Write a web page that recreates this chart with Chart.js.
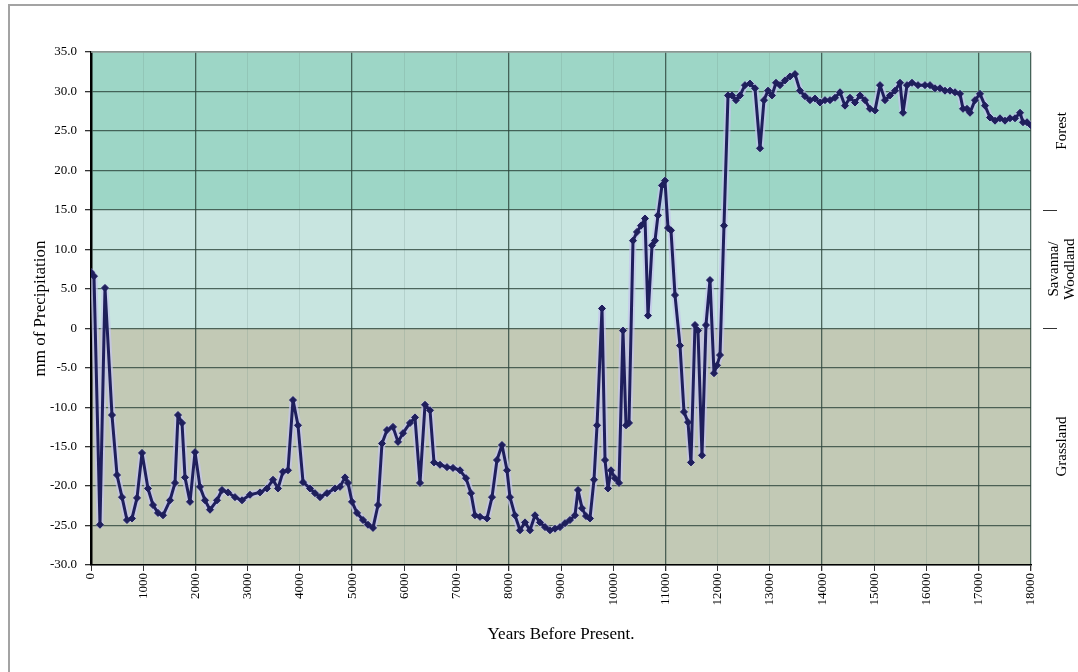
<!DOCTYPE html>
<html>
<head>
<meta charset="utf-8">
<script src="https://cdn.jsdelivr.net/npm/chart.js@4.4.1/dist/chart.umd.min.js"></script>
<style>
  html, body { margin: 0; padding: 0; background: #fff; }
  canvas { display: block; }
</style>
</head>
<body>
<canvas id="chart" width="1078" height="672"></canvas>
<script>
// Reconstructed precipitation anomaly (mm) against age (years before present)
const years = [
  0, 57, 172, 268, 402, 498, 594, 689, 785, 881, 977, 1091, 1187, 1283, 1379, 1513, 1609, 1666, 1743, 1800,
  1896, 1992, 2087, 2183, 2279, 2413, 2509, 2623, 2757, 2892, 3045, 3236, 3370, 3485, 3581, 3676, 3772, 3868, 3964, 4060,
  4194, 4289, 4385, 4519, 4672, 4768, 4864, 4921, 4998, 5094, 5209, 5304, 5400, 5496, 5572, 5668, 5783, 5879, 5974, 6109,
  6204, 6300, 6396, 6492, 6568, 6683, 6817, 6932, 7066, 7181, 7277, 7353, 7449, 7583, 7679, 7774, 7870, 7966, 8023, 8119,
  8215, 8311, 8406, 8502, 8598, 8694, 8789, 8885, 8981, 9077, 9172, 9268, 9326, 9402, 9479, 9555, 9632, 9690, 9785, 9843,
  9900, 9958, 10034, 10111, 10187, 10245, 10302, 10379, 10455, 10532, 10609, 10666, 10743, 10800, 10857, 10934, 10991, 11049, 11106, 11183,
  11279, 11355, 11432, 11489, 11566, 11623, 11700, 11776, 11853, 11930, 11987, 12045, 12121, 12198, 12275, 12351, 12428, 12523, 12619, 12715,
  12811, 12887, 12964, 13040, 13117, 13194, 13289, 13385, 13481, 13577, 13672, 13768, 13864, 13960, 14055, 14151, 14247, 14343, 14438, 14534,
  14630, 14726, 14821, 14917, 15013, 15109, 15204, 15300, 15396, 15492, 15549, 15626, 15721, 15836, 15970, 16066, 16162, 16257, 16353, 16449,
  16545, 16640, 16698, 16774, 16832, 16928, 17023, 17119, 17215, 17311, 17406, 17502, 17598, 17694, 17790, 17847, 17924, 18000
];
const precipitation = [
  7.1, 6.6, -24.9, 5.1, -11.0, -18.6, -21.4, -24.3, -24.1, -21.5, -15.8, -20.3, -22.4, -23.4, -23.7, -21.8, -19.6, -11.0, -12.0, -18.9,
  -22.0, -15.7, -20.1, -21.8, -23.0, -21.8, -20.5, -20.8, -21.4, -21.8, -21.1, -20.8, -20.3, -19.2, -20.3, -18.2, -18.0, -9.1, -12.3, -19.5,
  -20.3, -20.9, -21.4, -20.9, -20.3, -20.1, -18.9, -19.6, -22.0, -23.4, -24.3, -24.9, -25.3, -22.4, -14.6, -12.9, -12.5, -14.4, -13.3, -12.0,
  -11.3, -19.6, -9.7, -10.4, -17.0, -17.3, -17.6, -17.7, -18.0, -19.0, -20.9, -23.7, -23.9, -24.1, -21.4, -16.7, -14.8, -18.0, -21.4, -23.7,
  -25.6, -24.6, -25.6, -23.7, -24.6, -25.2, -25.6, -25.4, -25.2, -24.7, -24.3, -23.7, -20.5, -22.8, -23.8, -24.1, -19.2, -12.3, 2.5, -16.7,
  -20.3, -18.0, -19.0, -19.6, -0.3, -12.3, -12.0, 11.1, 12.2, 13.0, 13.9, 1.6, 10.5, 11.1, 14.3, 18.1, 18.7, 12.7, 12.4, 4.2,
  -2.2, -10.6, -11.9, -17.0, 0.4, -0.3, -16.1, 0.4, 6.1, -5.7, -4.7, -3.4, 13.0, 29.5, 29.5, 28.9, 29.5, 30.8, 31.0, 30.4,
  22.8, 28.9, 30.1, 29.5, 31.1, 30.8, 31.4, 31.9, 32.2, 30.1, 29.4, 28.9, 29.1, 28.6, 28.9, 28.9, 29.2, 29.9, 28.2, 29.2,
  28.6, 29.5, 28.9, 27.8, 27.6, 30.8, 28.9, 29.5, 30.1, 31.1, 27.3, 30.8, 31.1, 30.8, 30.8, 30.8, 30.4, 30.4, 30.1, 30.1,
  29.9, 29.7, 27.8, 27.8, 27.3, 28.9, 29.7, 28.2, 26.7, 26.3, 26.6, 26.3, 26.6, 26.6, 27.3, 26.1, 26.1, 25.7
];

// Vegetation zones shaded behind the series (precipitation limits in mm)
const zoneNames = [['Forest'], ['Savanna/', 'Woodland'], ['Grassland']];
const zoneUpper = [35, 15, 0];
const zoneLower = [15, 0, -30];
const zoneColors = ['#9dd6c6', '#c8e5e0', '#c2c9b5'];

// Axis ranges and ticks
const xMin = 0, xMax = 18000, xStep = 1000;
const yMin = -30, yMax = 35, yStep = 5;
const xMajorGrid = [2000, 5000, 8000, 11000, 14000, 17000, 18000];

const serif = '"Liberation Serif", "Times New Roman", serif';
const points = years.map((yr, i) => ({ x: yr, y: precipitation[i] }));

const zonePlugin = {
  id: 'zones',
  beforeDraw(chart) {
    const { ctx, chartArea: a, scales: { y } } = chart;
    ctx.save();
    ctx.fillStyle = '#ffffff';
    ctx.fillRect(0, 0, chart.width, chart.height);
    // outer frame
    ctx.strokeStyle = '#a3a3a3';
    ctx.lineWidth = 2;
    ctx.strokeRect(9, 5, chart.width + 20, chart.height + 20);
    zoneUpper.forEach((top, i) => {
      const yTop = y.getPixelForValue(top);
      const yBot = y.getPixelForValue(zoneLower[i]);
      ctx.fillStyle = zoneColors[i];
      ctx.fillRect(a.left, yTop, a.right - a.left, yBot - yTop);
    });
    ctx.restore();
  },
  afterDraw(chart) {
    const { ctx, chartArea: a, scales: { y } } = chart;
    ctx.save();
    // plot frame top edge
    ctx.strokeStyle = '#9aa5a0';
    ctx.lineWidth = 1.5;
    ctx.beginPath();
    ctx.moveTo(a.left, a.top);
    ctx.lineTo(a.right, a.top);
    ctx.stroke();
    // zone boundary marks on the right
    ctx.strokeStyle = '#333';
    ctx.lineWidth = 1;
    [zoneLower[0], zoneLower[1]].forEach(v => {
      const py = Math.round(y.getPixelForValue(v)) + 0.5;
      ctx.beginPath();
      ctx.moveTo(a.right + 12, py);
      ctx.lineTo(a.right + 26, py);
      ctx.stroke();
    });
    // zone names, rotated
    ctx.fillStyle = '#000';
    ctx.font = '15px ' + serif;
    ctx.textAlign = 'center';
    ctx.textBaseline = 'middle';
    zoneNames.forEach((lines, i) => {
      const cy = (y.getPixelForValue(zoneUpper[i]) + y.getPixelForValue(zoneLower[i])) / 2;
      const baseX = a.right + 31 - (lines.length - 1) * 8;
      lines.forEach((txt, j) => {
        ctx.save();
        ctx.translate(baseX + j * 16, cy);
        ctx.rotate(-Math.PI / 2);
        ctx.fillText(txt, 0, 0);
        ctx.restore();
      });
    });
    ctx.restore();
  }
};

new Chart(document.getElementById('chart'), {
  type: 'line',
  data: {
    datasets: [
      {
        data: points,
        borderColor: '#1f1f5c',
        borderWidth: 3,
        borderJoinStyle: 'round',
        pointStyle: 'rectRot',
        pointRadius: 3.5,
        pointBackgroundColor: '#1f1f5c',
        pointBorderColor: '#1f1f5c',
        pointBorderWidth: 1,
        tension: 0
      },
      {
        data: points,
        borderColor: 'rgba(196, 196, 240, 0.7)',
        borderWidth: 7,
        borderJoinStyle: 'round',
        borderCapStyle: 'round',
        pointRadius: 0,
        tension: 0
      }
    ]
  },
  options: {
    responsive: false,
    animation: false,
    events: [],
    layout: { padding: { left: 26, top: 52, right: 47, bottom: 23 } },
    plugins: { legend: { display: false }, tooltip: { enabled: false } },
    scales: {
      x: {
        type: 'linear',
        min: xMin,
        max: xMax,
        afterFit: s => { s.height = 84; },
        ticks: {
          stepSize: xStep,
          autoSkip: false,
          minRotation: 90,
          maxRotation: 90,
          padding: 2,
          color: '#000',
          font: { family: serif, size: 13 },
          callback: v => String(v)
        },
        grid: {
          color: c => xMajorGrid.includes(c.tick && c.tick.value) ? 'rgba(45,70,60,0.8)' : 'rgba(110,140,130,0.22)',
          lineWidth: c => xMajorGrid.includes(c.tick && c.tick.value) ? 1.3 : 1,
          tickColor: '#333',
          tickLength: 6
        },
        border: { color: '#000', width: 1.5 },
        title: {
          display: true,
          text: 'Years Before Present.',
          color: '#000',
          font: { family: serif, size: 17 },
          padding: { top: 4, bottom: 4 }
        }
      },
      y: {
        min: yMin,
        max: yMax,
        afterFit: s => { s.width = 65; },
        ticks: {
          stepSize: yStep,
          padding: 8,
          color: '#000',
          font: { family: serif, size: 13 },
          callback: v => (v === 0 ? '0' : v.toFixed(1))
        },
        grid: {
          color: 'rgba(45,70,60,0.8)',
          lineWidth: 1.3,
          tickColor: '#333',
          tickLength: 6
        },
        border: { color: '#000', width: 2.5 },
        title: {
          display: true,
          text: 'mm of Precipitation',
          color: '#000',
          font: { family: serif, size: 17 },
          padding: { top: 4, bottom: 4 }
        }
      }
    }
  },
  plugins: [zonePlugin]
});
</script>
</body>
</html>
